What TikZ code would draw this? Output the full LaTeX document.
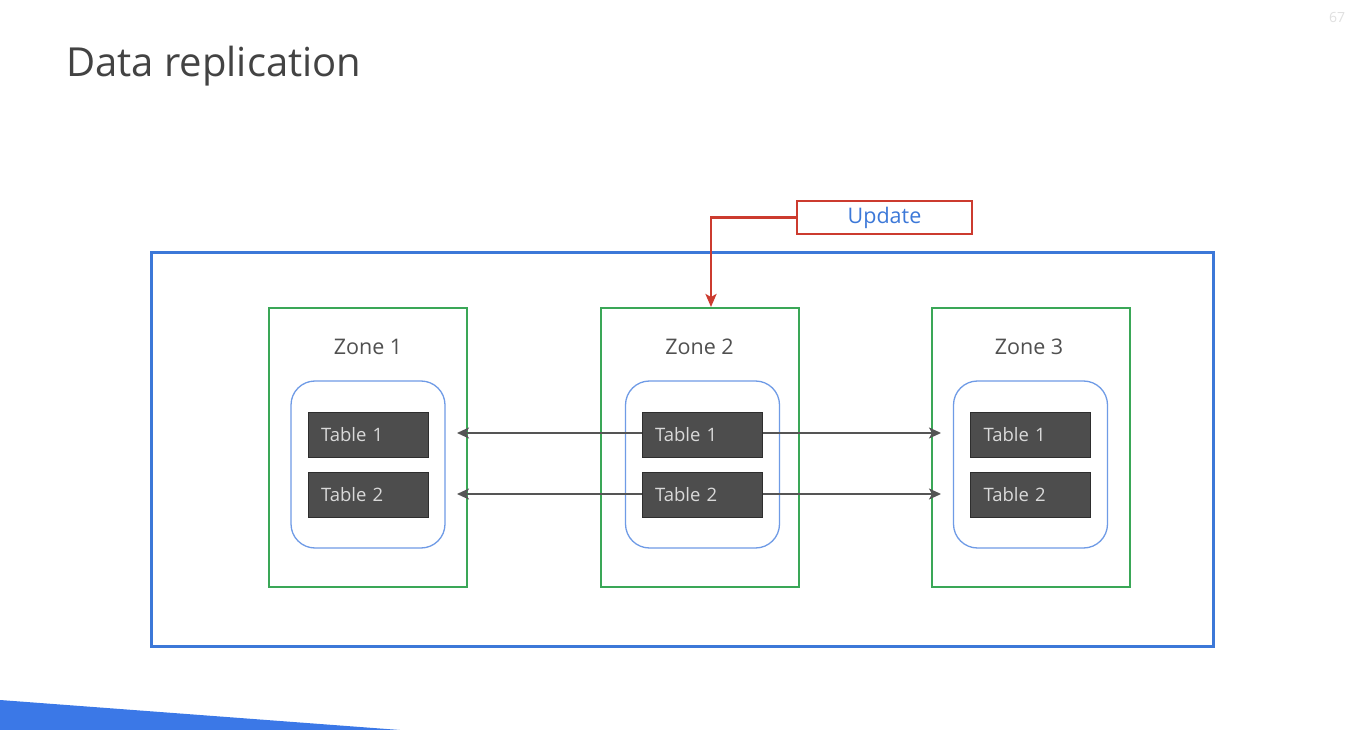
\documentclass[tikz,border=0pt]{standalone}
\usepackage{fontspec}
\setmainfont{Open Sans}
\usetikzlibrary{arrows.meta,calc}
\definecolor{outerblue}{HTML}{3C78D8}
\definecolor{zonegreen}{HTML}{3AA757}
\definecolor{innerblue}{HTML}{6F9BE6}
\definecolor{updred}{HTML}{CC3B2F}
\definecolor{tablefill}{HTML}{4D4D4D}
\definecolor{tableedge}{HTML}{2E2E2E}
\definecolor{titlegray}{HTML}{434343}
\definecolor{zonegray}{HTML}{505050}
\definecolor{arrowgray}{HTML}{555555}
\definecolor{wedgeblue}{HTML}{3B78E7}
\tikzset{
  outerbox/.style={draw=outerblue,line width=3pt,minimum width=1062pt,minimum height=393pt,inner sep=0pt},
  zonebox/.style={draw=zonegreen,line width=2pt,minimum width=198pt,minimum height=279pt,inner sep=0pt},
  rbox/.style={draw=innerblue,line width=1.3pt,rounded corners=24pt,minimum width=154pt,minimum height=167pt,inner sep=0pt},
  tablebox/.style={draw=tableedge,line width=1pt,fill=tablefill,text=white!85!black,font=\fontsize{18.5}{22}\selectfont,
    text width=94pt,inner xsep=13pt,inner ysep=0pt,minimum height=45pt,align=left},
  zonelabel/.style={text=zonegray,font=\fontsize{21.5}{26}\selectfont,inner sep=0pt},
  replarrow/.style={draw=arrowgray,line width=1.8pt,-{Stealth[length=12pt,width=11pt,inset=3pt]}},
  updbox/.style={draw=updred,line width=1.2pt,minimum width=175pt,minimum height=33pt,inner sep=0pt,text=outerblue,font=\fontsize{21.5}{26}\selectfont},
  updarrow/.style={draw=updred,line width=2.6pt,-{Stealth[length=13pt,width=11pt,inset=3pt]}},
}
\begin{document}
\begin{tikzpicture}[x=1pt,y=-1pt]
\useasboundingbox (0,0) rectangle (1366,730);
\fill[white] (0,0) rectangle (1366,730);
% bottom wedge
\fill[wedgeblue] (0,700) -- (400,730) -- (0,730) -- cycle;
% title and page number
\node[anchor=base west,inner sep=0pt,text=titlegray,font=\fontsize{40}{46}\selectfont] (title) at (66,77) {Data replication};
\node[anchor=base,inner sep=0pt,text=black!12,font=\fontsize{14}{16}\selectfont] (pagenum) at (1337,23) {67};
% outer region
\node[outerbox] (outer) at (682,449.5) {};
% zones
\node[zonebox] (z1) at (368,447.5) {};
\node[zonebox] (z2) at (699.5,447.5) {};
\node[zonebox] (z3) at (1030.5,447.5) {};
\node[zonelabel] (z1l) at (368,347) {Zone 1};
\node[zonelabel] (z2l) at (699.5,347) {Zone 2};
\node[zonelabel] (z3l) at (1029,347) {Zone 3};
% inner rounded boxes
\node[rbox] (r1) at (368,464.5) {};
\node[rbox] (r2) at (702.5,464.5) {};
\node[rbox] (r3) at (1030.5,464.5) {};
% tables
\node[tablebox] (t11) at (368,434.5) {Table 1};
\node[tablebox] (t12) at (368,494.5) {Table 2};
\node[tablebox] (t21) at (702,434.5) {Table 1};
\node[tablebox] (t22) at (702,494.5) {Table 2};
\node[tablebox] (t31) at (1030.5,434.5) {Table 1};
\node[tablebox] (t32) at (1030.5,494.5) {Table 2};
% replication arrows
\coordinate (l1) at (457,433);
\coordinate (l2) at (457,494);
\coordinate (e1) at (941,433);
\coordinate (e2) at (941,494);
\draw[replarrow] (t21.west |- l1) -- (l1);
\draw[replarrow] (t21.east |- e1) -- (e1);
\draw[replarrow] (t22.west |- l2) -- (l2);
\draw[replarrow] (t22.east |- e2) -- (e2);
% update
\node[updbox] (upd) at (884.5,217.5) {\raisebox{-1.5pt}{Update}};
\draw[updarrow] (upd.west) -| ([xshift=11.5pt]z2.north);
\end{tikzpicture}
\end{document}
